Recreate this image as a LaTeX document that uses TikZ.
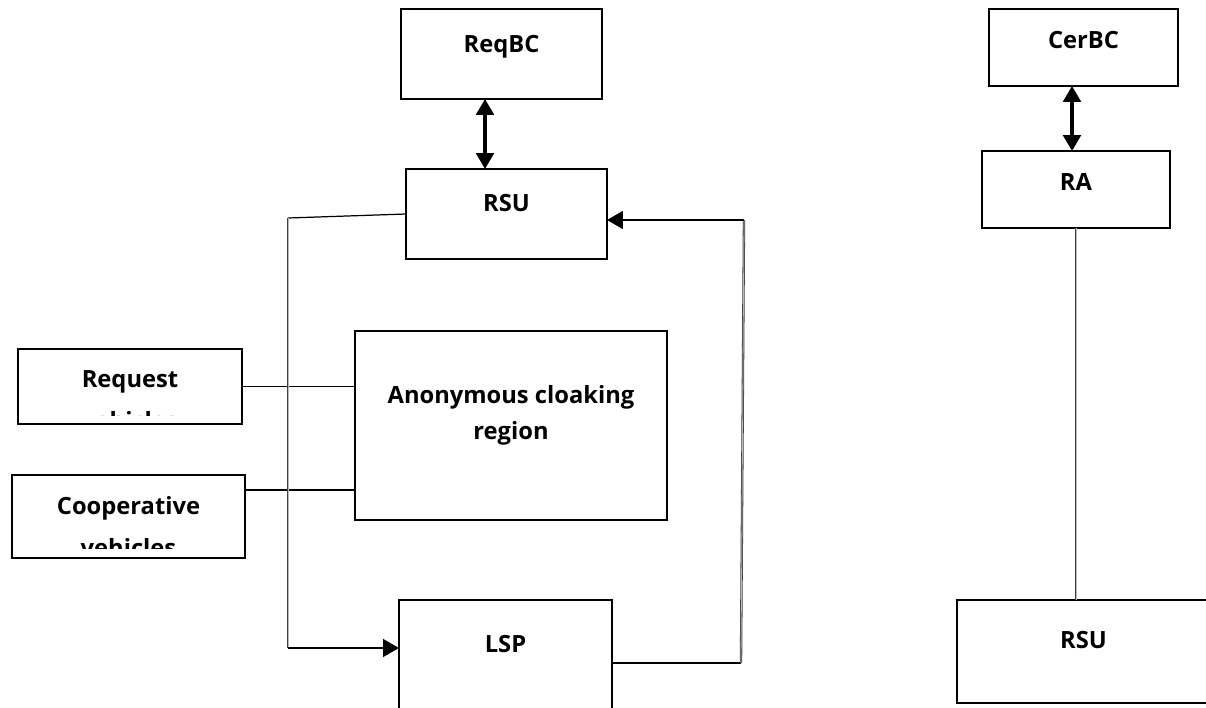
\documentclass[tikz,border=0pt]{standalone}
\usepackage{fontspec}
\setmainfont{Open Sans}
\usetikzlibrary{arrows.meta,calc}

\tikzset{
  box/.style={draw, line width=1.2pt, inner sep=0pt, outer sep=0pt},
  txt/.style={font=\fontsize{13.5}{16}\selectfont\bfseries, anchor=base, inner sep=0pt},
  wire/.style={line width=0.7pt},
  gwire/.style={draw=black!75, line width=0.45pt, double=gray!55, double distance=0.45pt},
  tip/.style={-{Triangle[length=9pt,width=10pt]}},
  both/.style={{Triangle[length=9pt,width=10pt]}-{Triangle[length=9pt,width=10pt]}, line width=1.8pt},
}

\begin{document}
\begin{tikzpicture}[x=0.2mm, y=-0.2mm]
\clip (0,0) rectangle (1206,708);
\fill[white] (0,0) rectangle (1206,708);

% boxes
\node[box, minimum width=40.2mm, minimum height=18mm] (reqbc) at (501.5,54) {};
\node[box, minimum width=40.2mm, minimum height=18mm] (rsu) at (506.5,214) {};
\node[box, minimum width=62.4mm, minimum height=37.8mm] (anon) at (511,425.5) {};
\node[box, minimum width=44.8mm, minimum height=15mm] (req) at (130,386.5) {};
\node[box, minimum width=46.6mm, minimum height=16.6mm] (coop) at (128.5,516.5) {};
\node[box, minimum width=42.6mm, minimum height=28mm] (lsp) at (505.5,670) {};
\node[box, minimum width=37.8mm, minimum height=15.4mm] (cerbc) at (1083.5,47.5) {};
\node[box, minimum width=37.6mm, minimum height=15.4mm] (ra) at (1076,189.5) {};
\node[box, minimum width=50.6mm, minimum height=20.6mm] (rsu2) at (1083.5,651.5) {};

% texts
\node[txt] (reqbc-t) at ($(reqbc.north)+(0,43)$) {ReqBC};
\node[txt] (rsu-t) at ($(rsu.north)+(0,42)$) {RSU};
\node[txt] (anon-t1) at ($(anon.north)+(0,72)$) {Anonymous cloaking};
\node[txt] (anon-t2) at ($(anon.north)+(0,108)$) {region};
\node[txt] (lsp-t) at ($(lsp.north)+(0,52)$) {LSP};
\node[txt] (cerbc-t) at ($(cerbc.north)+(0,39)$) {CerBC};
\node[txt] (ra-t) at ($(ra.north)+(0,39)$) {RA};
\node[txt] (rsu2-t) at ($(rsu2.north)+(0,48)$) {RSU};
\begin{scope}
  \clip (req.north west) rectangle ($(req.south east)+(0,-9)$);
  \node[txt] (req-t1) at ($(req.north)+(0,38)$) {Request};
  \node[txt] (req-t2) at ($(req.north)+(0,80)$) {vehicles};
\end{scope}
\begin{scope}
  \clip (coop.north west) rectangle ($(coop.south east)+(0,-10)$);
  \node[txt] (coop-t1) at ($(coop.north)+(0,39)$) {Cooperative};
  \node[txt] (coop-t2) at ($(coop.north)+(0,81)$) {vehicles};
\end{scope}

% corners of the two loops
\coordinate (lt) at (288,218);
\coordinate (lb) at (288,648);
\coordinate (rt) at (744,220);
\coordinate (rb) at (741,663);
\coordinate (c1) at ([yshift=5.3mm]coop.east);
\coordinate (a1) at ([xshift=-3.3mm]reqbc.south);
\coordinate (a2) at ([xshift=-2.3mm]cerbc.south);

% connectors
\draw[both] (a1) -- (a1 |- rsu.north);
\draw[both] (a2) -- (a2 |- ra.north);
\draw[gwire] (ra.south) -- (ra.south |- rsu2.north);
\draw[wire] (req.east) -- (req.east -| anon.west);
\draw[wire] (c1) -- (c1 -| anon.west);
\draw[wire] (rsu.west) -- (lt);
\draw[gwire] (lt) -- (lb);
\draw[tip, line width=1.3pt] (lb) -- (lb -| lsp.west);
\draw[wire] (lsp.east |- rb) -- (rb);
\draw[gwire] (rb) -- (rt);
\draw[tip, line width=1.6pt] (rt) -- (rt -| rsu.east);
\end{tikzpicture}
\end{document}
